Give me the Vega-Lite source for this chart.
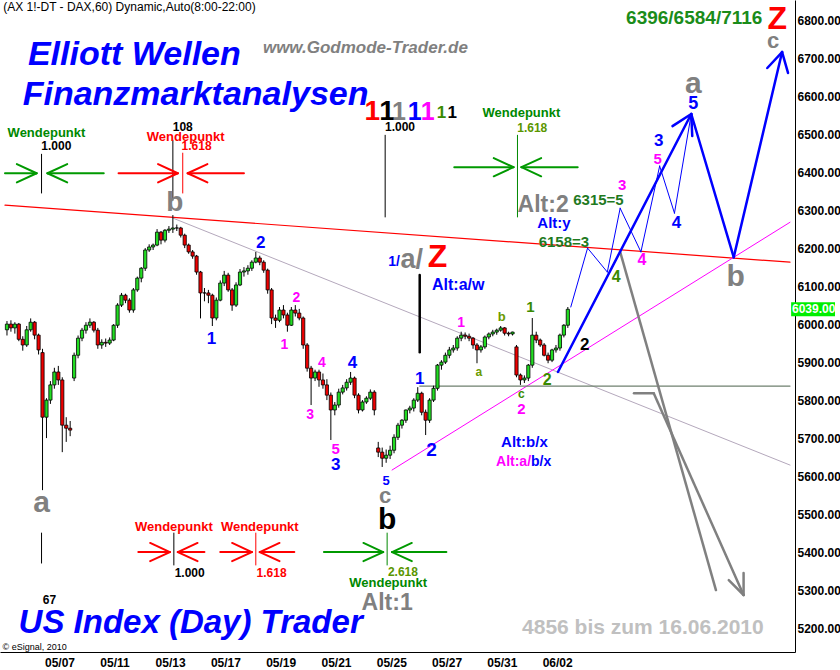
{
"$schema": "https://vega.github.io/schema/vega-lite/v6.json",
"width": 795, "height": 652,
"autosize": {"type": "none"},
"padding": {"left": 0, "top": 0, "right": 45, "bottom": 18},
"background": "#ffffff",
"config": {
 "view": {"stroke": null},
 "axis": {"ticks": false, "grid": false, "labelFont": "Liberation Sans", "labelFontWeight": "bold", "labelFontSize": 12, "labelColor": "#000000", "domainColor": "#000000", "domainWidth": 1},
 "axisX": {"labelAlign": "left", "labelPadding": 5, "labelFlush": false, "labelOverlap": false},
 "axisY": {"labelPadding": 2, "labelOverlap": false}
},
"datasets": {
 "k": [
  {"h":-19,"o":5985,"hi":6008,"lo":5970,"c":6000},{"h":-17,"o":6000,"hi":6010,"lo":5980,"c":5990},{"h":-15,"o":5990,"hi":6005,"lo":5975,"c":6000},{"h":-13,"o":6000,"hi":6003,"lo":5955,"c":5960},{"h":-11,"o":5960,"hi":5968,"lo":5930,"c":5945},{"h":-9,"o":5945,"hi":5995,"lo":5940,"c":5985},{"h":-7,"o":5985,"hi":6015,"lo":5980,"c":6005},{"h":-5,"o":6005,"hi":6008,"lo":5960,"c":5971},{"h":-3,"o":5971,"hi":5975,"lo":5920,"c":5932},{"h":-1,"o":5925,"hi":5935,"lo":5563,"c":5755},
  {"h":1,"o":5755,"hi":5805,"lo":5700,"c":5800},{"h":3,"o":5800,"hi":5850,"lo":5790,"c":5840},{"h":5,"o":5840,"hi":5885,"lo":5830,"c":5874},{"h":7,"o":5874,"hi":5890,"lo":5840,"c":5853},{"h":9,"o":5853,"hi":5860,"lo":5663,"c":5734},{"h":11,"o":5734,"hi":5755,"lo":5690,"c":5726},{"h":13,"o":5726,"hi":5745,"lo":5705,"c":5721},
  {"h":15,"o":5858,"hi":5925,"lo":5850,"c":5918},{"h":17,"o":5918,"hi":5970,"lo":5910,"c":5963},{"h":19,"o":5963,"hi":5990,"lo":5955,"c":5984},{"h":21,"o":5984,"hi":6005,"lo":5975,"c":5997},{"h":23,"o":5997,"hi":6015,"lo":5990,"c":6005},{"h":25,"o":6005,"hi":6008,"lo":5978,"c":5984},{"h":27,"o":5984,"hi":5990,"lo":5935,"c":5945},
  {"h":29,"o":5945,"hi":5960,"lo":5935,"c":5952},{"h":31,"o":5952,"hi":5962,"lo":5940,"c":5950},{"h":33,"o":5950,"hi":5965,"lo":5945,"c":5958},{"h":35,"o":5958,"hi":6000,"lo":5955,"c":5997},{"h":37,"o":5997,"hi":6055,"lo":5990,"c":6050},{"h":39,"o":6050,"hi":6082,"lo":6045,"c":6076},{"h":41,"o":6076,"hi":6080,"lo":6055,"c":6063},
  {"h":43,"o":6063,"hi":6068,"lo":6030,"c":6037},{"h":45,"o":6037,"hi":6095,"lo":6030,"c":6090},{"h":47,"o":6090,"hi":6125,"lo":6085,"c":6121},{"h":49,"o":6121,"hi":6150,"lo":6110,"c":6147},{"h":51,"o":6147,"hi":6200,"lo":6140,"c":6195},{"h":53,"o":6195,"hi":6210,"lo":6190,"c":6203},{"h":55,"o":6203,"hi":6212,"lo":6195,"c":6208},
  {"h":57,"o":6208,"hi":6250,"lo":6205,"c":6242},{"h":59,"o":6242,"hi":6245,"lo":6210,"c":6221},{"h":61,"o":6221,"hi":6250,"lo":6215,"c":6247},{"h":63,"o":6247,"hi":6258,"lo":6240,"c":6250},{"h":65,"o":6250,"hi":6287,"lo":6240,"c":6253},{"h":67,"o":6253,"hi":6262,"lo":6245,"c":6253},{"h":69,"o":6253,"hi":6256,"lo":6228,"c":6234},
  {"h":71,"o":6234,"hi":6238,"lo":6200,"c":6208},{"h":73,"o":6208,"hi":6212,"lo":6185,"c":6190},{"h":75,"o":6190,"hi":6195,"lo":6172,"c":6179},{"h":77,"o":6179,"hi":6182,"lo":6130,"c":6137},{"h":79,"o":6137,"hi":6140,"lo":6015,"c":6082},{"h":81,"o":6082,"hi":6095,"lo":6060,"c":6082},{"h":83,"o":6082,"hi":6090,"lo":6055,"c":6076},
  {"h":85,"o":6076,"hi":6080,"lo":5995,"c":6016},{"h":87,"o":6016,"hi":6070,"lo":6010,"c":6063},{"h":89,"o":6063,"hi":6115,"lo":6060,"c":6108},{"h":91,"o":6108,"hi":6140,"lo":6100,"c":6129},{"h":93,"o":6129,"hi":6135,"lo":6085,"c":6090},{"h":95,"o":6090,"hi":6095,"lo":6035,"c":6050},{"h":97,"o":6050,"hi":6110,"lo":6045,"c":6103},
  {"h":99,"o":6103,"hi":6145,"lo":6100,"c":6137},{"h":101,"o":6137,"hi":6150,"lo":6125,"c":6140},{"h":103,"o":6140,"hi":6155,"lo":6130,"c":6147},{"h":105,"o":6147,"hi":6168,"lo":6140,"c":6163},{"h":107,"o":6163,"hi":6190,"lo":6160,"c":6174},{"h":109,"o":6174,"hi":6180,"lo":6155,"c":6163},{"h":111,"o":6163,"hi":6168,"lo":6135,"c":6142},
  {"h":113,"o":6142,"hi":6146,"lo":6080,"c":6090},{"h":115,"o":6090,"hi":6095,"lo":6000,"c":6016},{"h":117,"o":6016,"hi":6025,"lo":5990,"c":6010},{"h":119,"o":6010,"hi":6045,"lo":6005,"c":6037},{"h":121,"o":6037,"hi":6050,"lo":6015,"c":6024},{"h":123,"o":6024,"hi":6030,"lo":5980,"c":5997},{"h":125,"o":5997,"hi":6045,"lo":5995,"c":6037},
  {"h":127,"o":6037,"hi":6050,"lo":6020,"c":6029},{"h":129,"o":6029,"hi":6040,"lo":6010,"c":6016},{"h":131,"o":6016,"hi":6020,"lo":5935,"c":5945},{"h":133,"o":5945,"hi":5950,"lo":5875,"c":5884},{"h":135,"o":5884,"hi":5890,"lo":5787,"c":5858},{"h":137,"o":5858,"hi":5880,"lo":5850,"c":5874},{"h":139,"o":5874,"hi":5880,"lo":5835,"c":5853},
  {"h":141,"o":5853,"hi":5870,"lo":5830,"c":5840},{"h":143,"o":5840,"hi":5855,"lo":5800,"c":5813},{"h":145,"o":5813,"hi":5820,"lo":5695,"c":5774},{"h":147,"o":5774,"hi":5795,"lo":5760,"c":5787},{"h":149,"o":5787,"hi":5830,"lo":5780,"c":5821},{"h":151,"o":5821,"hi":5840,"lo":5815,"c":5832},{"h":153,"o":5832,"hi":5855,"lo":5825,"c":5847},
  {"h":155,"o":5847,"hi":5874,"lo":5840,"c":5858},{"h":157,"o":5858,"hi":5862,"lo":5805,"c":5813},{"h":159,"o":5813,"hi":5818,"lo":5765,"c":5774},{"h":161,"o":5774,"hi":5800,"lo":5770,"c":5795},{"h":163,"o":5795,"hi":5810,"lo":5790,"c":5805},{"h":165,"o":5805,"hi":5828,"lo":5800,"c":5821},{"h":167,"o":5821,"hi":5826,"lo":5760,"c":5774},
  {"h":169,"o":5674,"hi":5690,"lo":5650,"c":5663},{"h":171,"o":5663,"hi":5675,"lo":5624,"c":5647},{"h":173,"o":5647,"hi":5670,"lo":5635,"c":5655},{"h":175,"o":5655,"hi":5680,"lo":5645,"c":5668},{"h":177,"o":5668,"hi":5710,"lo":5660,"c":5702},{"h":179,"o":5702,"hi":5740,"lo":5695,"c":5734},{"h":181,"o":5734,"hi":5750,"lo":5725,"c":5747},
  {"h":183,"o":5747,"hi":5775,"lo":5740,"c":5774},{"h":185,"o":5774,"hi":5785,"lo":5765,"c":5779},{"h":187,"o":5779,"hi":5805,"lo":5770,"c":5800},{"h":189,"o":5800,"hi":5834,"lo":5795,"c":5818},{"h":191,"o":5818,"hi":5822,"lo":5760,"c":5768},{"h":193,"o":5768,"hi":5775,"lo":5708,"c":5747},{"h":195,"o":5747,"hi":5805,"lo":5740,"c":5800},
  {"h":197,"o":5800,"hi":5838,"lo":5795,"c":5831},{"h":199,"o":5831,"hi":5895,"lo":5825,"c":5892},{"h":201,"o":5892,"hi":5905,"lo":5880,"c":5900},{"h":203,"o":5900,"hi":5925,"lo":5895,"c":5918},{"h":205,"o":5918,"hi":5940,"lo":5910,"c":5932},{"h":207,"o":5932,"hi":5945,"lo":5925,"c":5937},{"h":209,"o":5937,"hi":5968,"lo":5930,"c":5963},
  {"h":211,"o":5963,"hi":5980,"lo":5955,"c":5971},{"h":213,"o":5971,"hi":5978,"lo":5960,"c":5968},{"h":215,"o":5968,"hi":5975,"lo":5955,"c":5963},{"h":217,"o":5963,"hi":5966,"lo":5935,"c":5945},{"h":219,"o":5945,"hi":5950,"lo":5897,"c":5932},{"h":221,"o":5932,"hi":5945,"lo":5925,"c":5940},{"h":223,"o":5940,"hi":5970,"lo":5935,"c":5966},
  {"h":225,"o":5966,"hi":5978,"lo":5960,"c":5974},{"h":227,"o":5974,"hi":5985,"lo":5968,"c":5979},{"h":229,"o":5979,"hi":5988,"lo":5972,"c":5984},{"h":231,"o":5984,"hi":5995,"lo":5980,"c":5990},{"h":233,"o":5990,"hi":5992,"lo":5970,"c":5976},{"h":235,"o":5976,"hi":5980,"lo":5968,"c":5974},{"h":237,"o":5974,"hi":5980,"lo":5970,"c":5979},
  {"h":239,"o":5940,"hi":5945,"lo":5860,"c":5866},{"h":241,"o":5866,"hi":5870,"lo":5840,"c":5853},{"h":243,"o":5853,"hi":5865,"lo":5845,"c":5858},{"h":245,"o":5858,"hi":5895,"lo":5850,"c":5892},{"h":247,"o":5892,"hi":6016,"lo":5885,"c":5971},{"h":249,"o":5971,"hi":5980,"lo":5950,"c":5958},{"h":251,"o":5958,"hi":5962,"lo":5940,"c":5945},
  {"h":253,"o":5945,"hi":5950,"lo":5915,"c":5918},{"h":255,"o":5918,"hi":5925,"lo":5897,"c":5905},{"h":257,"o":5905,"hi":5935,"lo":5900,"c":5932},{"h":259,"o":5932,"hi":5945,"lo":5925,"c":5937},{"h":261,"o":5937,"hi":5975,"lo":5930,"c":5971},{"h":263,"o":5971,"hi":6000,"lo":5965,"c":5997},{"h":265,"o":5997,"hi":6045,"lo":5990,"c":6039}
 ],
 "seg": [
  {"g":"t","x":-20,"y":6313,"x2":377.5,"y2":6163,"c":"#ff0000","w":1.2},
  {"g":"t","x":65,"y":6279,"x2":377.5,"y2":5629,"c":"#b4a8bc","w":1},
  {"g":"t","x":176,"y":5616,"x2":377.5,"y2":6268,"c":"#ff00ff","w":1},
  {"g":"t","x":190,"y":5837,"x2":377.5,"y2":5837,"c":"#6f806f","w":1.2},
  {"g":"f","x":-1.5,"y":6447,"x2":-1.5,"y2":6345,"c":"#000000","w":1},
  {"g":"f","x":65,"y":6484,"x2":65,"y2":6326,"c":"#000000","w":1},
  {"g":"f","x":70,"y":6450,"x2":70,"y2":6345,"c":"#ff0000","w":1},
  {"g":"f","x":172.5,"y":6497,"x2":172.5,"y2":6282,"c":"#000000","w":1},
  {"g":"f","x":239.5,"y":6497,"x2":239.5,"y2":6282,"c":"#008800","w":1},
  {"g":"f","x":-1.5,"y":5450,"x2":-1.5,"y2":5371,"c":"#000000","w":1},
  {"g":"f","x":65.5,"y":5450,"x2":65.5,"y2":5366,"c":"#000000","w":1},
  {"g":"f","x":107,"y":5450,"x2":107,"y2":5366,"c":"#ff0000","w":1},
  {"g":"f","x":173.5,"y":5450,"x2":173.5,"y2":5366,"c":"#008800","w":1},
  {"g":"f","x":190,"y":6129,"x2":190,"y2":5926,"c":"#000000","w":2.5},
  {"g":"f","x":-20,"y":6397,"x2":-4,"y2":6397,"c":"#009900","w":2},
  {"g":"f","x":-14,"y":6421,"x2":-4,"y2":6397,"c":"#009900","w":2},
  {"g":"f","x":-14,"y":6373,"x2":-4,"y2":6397,"c":"#009900","w":2},
  {"g":"f","x":1.5,"y":6397,"x2":30,"y2":6397,"c":"#009900","w":2},
  {"g":"f","x":11.5,"y":6421,"x2":1.5,"y2":6397,"c":"#009900","w":2},
  {"g":"f","x":11.5,"y":6373,"x2":1.5,"y2":6397,"c":"#009900","w":2},
  {"g":"f","x":37.5,"y":6397,"x2":67.5,"y2":6397,"c":"#ff0000","w":2},
  {"g":"f","x":57.5,"y":6421,"x2":67.5,"y2":6397,"c":"#ff0000","w":2},
  {"g":"f","x":57.5,"y":6373,"x2":67.5,"y2":6397,"c":"#ff0000","w":2},
  {"g":"f","x":72.5,"y":6397,"x2":101,"y2":6397,"c":"#ff0000","w":2},
  {"g":"f","x":82.5,"y":6421,"x2":72.5,"y2":6397,"c":"#ff0000","w":2},
  {"g":"f","x":82.5,"y":6373,"x2":72.5,"y2":6397,"c":"#ff0000","w":2},
  {"g":"f","x":207.5,"y":6413,"x2":237.5,"y2":6413,"c":"#009900","w":2},
  {"g":"f","x":227.5,"y":6437,"x2":237.5,"y2":6413,"c":"#009900","w":2},
  {"g":"f","x":227.5,"y":6389,"x2":237.5,"y2":6413,"c":"#009900","w":2},
  {"g":"f","x":241.5,"y":6413,"x2":270,"y2":6413,"c":"#009900","w":2},
  {"g":"f","x":251.5,"y":6437,"x2":241.5,"y2":6413,"c":"#009900","w":2},
  {"g":"f","x":251.5,"y":6389,"x2":241.5,"y2":6413,"c":"#009900","w":2},
  {"g":"f","x":47.5,"y":5400,"x2":63.5,"y2":5400,"c":"#ff0000","w":2},
  {"g":"f","x":53.5,"y":5424,"x2":63.5,"y2":5400,"c":"#ff0000","w":2},
  {"g":"f","x":53.5,"y":5376,"x2":63.5,"y2":5400,"c":"#ff0000","w":2},
  {"g":"f","x":67.5,"y":5400,"x2":81,"y2":5400,"c":"#ff0000","w":2},
  {"g":"f","x":77.5,"y":5424,"x2":67.5,"y2":5400,"c":"#ff0000","w":2},
  {"g":"f","x":77.5,"y":5376,"x2":67.5,"y2":5400,"c":"#ff0000","w":2},
  {"g":"f","x":89,"y":5400,"x2":105,"y2":5400,"c":"#ff0000","w":2},
  {"g":"f","x":95,"y":5424,"x2":105,"y2":5400,"c":"#ff0000","w":2},
  {"g":"f","x":95,"y":5376,"x2":105,"y2":5400,"c":"#ff0000","w":2},
  {"g":"f","x":109,"y":5400,"x2":126.5,"y2":5400,"c":"#ff0000","w":2},
  {"g":"f","x":119,"y":5424,"x2":109,"y2":5400,"c":"#ff0000","w":2},
  {"g":"f","x":119,"y":5376,"x2":109,"y2":5400,"c":"#ff0000","w":2},
  {"g":"f","x":141.5,"y":5400,"x2":171.5,"y2":5400,"c":"#009900","w":2},
  {"g":"f","x":161.5,"y":5424,"x2":171.5,"y2":5400,"c":"#009900","w":2},
  {"g":"f","x":161.5,"y":5376,"x2":171.5,"y2":5400,"c":"#009900","w":2},
  {"g":"f","x":176,"y":5400,"x2":203.5,"y2":5400,"c":"#009900","w":2},
  {"g":"f","x":186,"y":5424,"x2":176,"y2":5400,"c":"#009900","w":2},
  {"g":"f","x":186,"y":5376,"x2":176,"y2":5400,"c":"#009900","w":2},
  {"g":"f","x":266.5,"y":6045,"x2":275,"y2":6200,"c":"#0000ff","w":1},
  {"g":"f","x":275,"y":6200,"x2":285,"y2":6137,"c":"#0000ff","w":1},
  {"g":"f","x":285,"y":6137,"x2":291.5,"y2":6305,"c":"#0000ff","w":1},
  {"g":"f","x":291.5,"y":6305,"x2":302,"y2":6190,"c":"#0000ff","w":1},
  {"g":"f","x":302,"y":6190,"x2":311.5,"y2":6416,"c":"#0000ff","w":1},
  {"g":"f","x":311.5,"y":6416,"x2":319,"y2":6292,"c":"#0000ff","w":1},
  {"g":"f","x":319,"y":6292,"x2":327.5,"y2":6553,"c":"#0000ff","w":1},
  {"g":"f","x":291.5,"y":6190,"x2":340,"y2":5300,"c":"#808080","w":2.5},
  {"g":"f","x":298.5,"y":5818,"x2":308.5,"y2":5818,"c":"#808080","w":2.5},
  {"g":"f","x":308.5,"y":5818,"x2":354,"y2":5287,"c":"#808080","w":2.5},
  {"g":"f","x":346.5,"y":5326,"x2":354,"y2":5287,"c":"#808080","w":2.5},
  {"g":"f","x":354,"y":5345,"x2":354,"y2":5287,"c":"#808080","w":2.5},
  {"g":"f","x":260,"y":5874,"x2":327.5,"y2":6553,"c":"#0000ff","w":2.5},
  {"g":"f","x":327.5,"y":6553,"x2":349,"y2":6176,"c":"#0000ff","w":2.5},
  {"g":"f","x":349,"y":6176,"x2":373.5,"y2":6716,"c":"#0000ff","w":2.5},
  {"g":"f","x":318,"y":6521,"x2":327.5,"y2":6553,"c":"#0000ff","w":2.5},
  {"g":"f","x":328,"y":6495,"x2":327.5,"y2":6553,"c":"#0000ff","w":2.5},
  {"g":"f","x":366,"y":6674,"x2":373.5,"y2":6716,"c":"#0000ff","w":2.5},
  {"g":"f","x":376.5,"y":6661,"x2":373.5,"y2":6716,"c":"#0000ff","w":2.5}
 ],
 "txt": [
  {"k":"bi","x":45.5,"y":6708,"t":"Elliott Wellen","c":"#0000ff","s":34},
  {"k":"bi","x":76.5,"y":6603,"t":"Finanzmarktanalysen","c":"#0000ff","s":34},
  {"k":"bi","x":162.5,"y":6726,"t":"www.Godmode-Trader.de","c":"#808080","s":17},
  {"k":"bi","x":74,"y":5213,"t":"US Index (Day) Trader","c":"#0000ff","s":33},
  {"k":"n","x":43,"y":6834,"t":"(AX 1!-DT - DAX,60) Dynamic,Auto(8:00-22:00)","c":"#000000","s":12},
  {"k":"n","x":-5,"y":5150,"t":"© eSignal, 2010","c":"#000000","s":9},
  {"k":"b","x":303,"y":5200,"t":"4856 bis zum 16.06.2010","c":"#c0c0c0","s":21},
  {"k":"b","x":329,"y":6805,"t":"6396/6584/7116","c":"#1a8c1a","s":19},
  {"k":"b","x":371,"y":6804,"t":"Z","c":"#ff0000","s":32},
  {"k":"b","x":369,"y":6745,"t":"c","c":"#808080","s":22},
  {"k":"b","x":328.5,"y":6633,"t":"a","c":"#808080","s":30},
  {"k":"b","x":328.5,"y":6580,"t":"5","c":"#0000ff","s":18},
  {"k":"b","x":311,"y":6481,"t":"3","c":"#0000ff","s":17},
  {"k":"b","x":310.5,"y":6435,"t":"5","c":"#ff00ff","s":15},
  {"k":"b","x":320,"y":6266,"t":"4","c":"#0000ff","s":17},
  {"k":"b","x":350,"y":6124,"t":"b","c":"#808080","s":30},
  {"k":"b","x":292.5,"y":6366,"t":"3","c":"#ff00ff","s":15},
  {"k":"b","x":280.5,"y":6326,"t":"6315=5","c":"#1f7a1f","s":15},
  {"k":"b","x":252.5,"y":6313,"t":"Alt:2","c":"#808080","s":23},
  {"k":"b","x":258,"y":6266,"t":"Alt:y","c":"#0000ff","s":15},
  {"k":"b","x":263,"y":6216,"t":"6158=3","c":"#1f7a1f","s":15},
  {"k":"b","x":289.5,"y":6124,"t":"4","c":"#3a8a00","s":16},
  {"k":"b","x":302.5,"y":6168,"t":"4","c":"#ff00ff","s":16},
  {"k":"b","x":166,"y":6558,"t":"1","c":"#ff0000","s":28},
  {"k":"b","x":173.5,"y":6558,"t":"1","c":"#000000","s":28},
  {"k":"b","x":179.5,"y":6558,"t":"1","c":"#808080","s":25},
  {"k":"b","x":187.5,"y":6558,"t":"1","c":"#0000ff","s":25},
  {"k":"b","x":194,"y":6558,"t":"1","c":"#ff00ff","s":25},
  {"k":"b","x":201,"y":6555,"t":"1","c":"#3a8a00","s":17},
  {"k":"b","x":206.5,"y":6555,"t":"1","c":"#000000","s":17},
  {"k":"b","x":180,"y":6518,"t":"1.000","c":"#000000","s":12},
  {"k":"b","x":241.5,"y":6555,"t":"Wendepunkt","c":"#008800","s":13},
  {"k":"b","x":247,"y":6516,"t":"1.618","c":"#5a9600","s":12},
  {"k":"b","x":1,"y":6503,"t":"Wendepunkt","c":"#008800","s":13},
  {"k":"b","x":6,"y":6468,"t":"1.000","c":"#000000","s":12},
  {"k":"b","x":70,"y":6520,"t":"108","c":"#000000","s":12},
  {"k":"b","x":71.5,"y":6492,"t":"Wendepunkt","c":"#ff0000","s":13},
  {"k":"b","x":77,"y":6468,"t":"1.618","c":"#ff0000","s":12},
  {"k":"b","x":66,"y":6318,"t":"b","c":"#808080","s":28},
  {"k":"b","x":84.5,"y":5960,"t":"1","c":"#0000ff","s":17},
  {"k":"b","x":109.5,"y":6213,"t":"2","c":"#0000ff","s":17},
  {"k":"b","x":156,"y":5897,"t":"4","c":"#0000ff","s":17},
  {"k":"b","x":147.5,"y":5630,"t":"3","c":"#0000ff","s":17},
  {"k":"b","x":173,"y":5586,"t":"5","c":"#0000ff","s":13},
  {"k":"b","x":190,"y":5855,"t":"1","c":"#0000ff","s":17},
  {"k":"b","x":196,"y":5668,"t":"2","c":"#0000ff","s":19},
  {"k":"b","x":121.5,"y":5945,"t":"1","c":"#ff00ff","s":14},
  {"k":"b","x":127.5,"y":6068,"t":"2","c":"#ff00ff","s":14},
  {"k":"b","x":134.5,"y":5760,"t":"3","c":"#ff00ff","s":14},
  {"k":"b","x":140.5,"y":5897,"t":"4","c":"#ff00ff","s":14},
  {"k":"b","x":147.5,"y":5670,"t":"5","c":"#ff00ff","s":15},
  {"k":"b","x":211,"y":6003,"t":"1","c":"#ff00ff","s":14},
  {"k":"b","x":241.5,"y":5777,"t":"2","c":"#ff00ff","s":15},
  {"k":"b","x":220,"y":5874,"t":"a","c":"#6b9a00","s":12},
  {"k":"b","x":231.5,"y":6018,"t":"b","c":"#6b9a00","s":13},
  {"k":"b","x":246,"y":6045,"t":"1","c":"#3a8a00","s":15},
  {"k":"b","x":241.5,"y":5815,"t":"c","c":"#3a8a00","s":12},
  {"k":"b","x":254.5,"y":5853,"t":"2","c":"#3a8a00","s":16},
  {"k":"b","x":273.5,"y":5945,"t":"2","c":"#000000","s":17},
  {"k":"b","x":177,"y":6163,"t":"1/","c":"#0000ff","s":14},
  {"k":"b","x":186,"y":6168,"t":"a/","c":"#808080","s":27},
  {"k":"b","x":199,"y":6176,"t":"Z","c":"#ff0000","s":32},
  {"k":"b","x":209.5,"y":6103,"t":"Alt:a/w","c":"#0000ff","s":16},
  {"k":"b","x":243,"y":5690,"t":"Alt:b/x","c":"#0000ff","s":15},
  {"k":"b","x":237.5,"y":5637,"t":"Alt:a/","c":"#ff00ff","s":14},
  {"k":"b","x":251.5,"y":5637,"t":"b/x","c":"#0000ff","s":14},
  {"k":"b","x":172.5,"y":5548,"t":"c","c":"#808080","s":22},
  {"k":"b","x":173.5,"y":5484,"t":"b","c":"#000000","s":30},
  {"k":"b","x":-1.5,"y":5529,"t":"a","c":"#808080","s":30},
  {"k":"b","x":2.5,"y":5274,"t":"67","c":"#000000","s":12},
  {"k":"b","x":65.5,"y":5466,"t":"Wendepunkt","c":"#ff0000","s":13},
  {"k":"b","x":73.5,"y":5345,"t":"1.000","c":"#000000","s":12},
  {"k":"b","x":109,"y":5466,"t":"Wendepunkt","c":"#ff0000","s":13},
  {"k":"b","x":115,"y":5345,"t":"1.618","c":"#ff0000","s":12},
  {"k":"b","x":181.5,"y":5347,"t":"2.618","c":"#5a9600","s":12},
  {"k":"b","x":174,"y":5319,"t":"Wendepunkt","c":"#008800","s":13},
  {"k":"b","x":173.5,"y":5267,"t":"Alt:1","c":"#808080","s":23}
 ],
 "tag": [{"x":377.5,"y":6039,"t":"6039.00"}]
},
"layer": [
 {
  "data": {"name": "seg"},
  "transform": [{"filter": "datum.g == 't'"}],
  "mark": {"type": "rule", "strokeCap": "round"},
  "encoding": {
   "x": {"field": "x", "type": "quantitative", "scale": {"domain": [-20, 377.5], "nice": false, "zero": false},
         "axis": {"title": null, "values": [0, 28, 56, 84, 112, 140, 168, 196, 224, 252], "labelExpr": "['05/07','05/11','05/13','05/17','05/19','05/21','05/25','05/27','05/31','06/02'][round(datum.value/28)]"}},
   "y": {"field": "y", "type": "quantitative", "scale": {"domain": [5137, 6853], "nice": false, "zero": false},
         "axis": {"title": null, "orient": "right", "values": [5200, 5300, 5400, 5500, 5600, 5700, 5800, 5900, 6000, 6100, 6200, 6300, 6400, 6500, 6600, 6700, 6800], "format": ".2f"}},
   "x2": {"field": "x2"},
   "y2": {"field": "y2"},
   "color": {"field": "c", "type": "nominal", "scale": null},
   "strokeWidth": {"field": "w", "type": "quantitative", "scale": null}
  }
 },
 {
  "data": {"name": "k"},
  "mark": {"type": "rule", "color": "#000000", "strokeWidth": 1},
  "encoding": {
   "x": {"field": "h", "type": "quantitative", "scale": {"domain": [-20, 377.5], "nice": false, "zero": false},
         "axis": {"title": null, "values": [0, 28, 56, 84, 112, 140, 168, 196, 224, 252], "labelExpr": "['05/07','05/11','05/13','05/17','05/19','05/21','05/25','05/27','05/31','06/02'][round(datum.value/28)]"}},
   "y": {"field": "lo", "type": "quantitative", "scale": {"domain": [5137, 6853], "nice": false, "zero": false},
         "axis": {"title": null, "orient": "right", "values": [5200, 5300, 5400, 5500, 5600, 5700, 5800, 5900, 6000, 6100, 6200, 6300, 6400, 6500, 6600, 6700, 6800], "format": ".2f"}},
   "y2": {"field": "hi"}
  }
 },
 {
  "data": {"name": "k"},
  "mark": {"type": "bar", "size": 3.2, "stroke": "#000000", "strokeWidth": 0.8},
  "encoding": {
   "x": {"field": "h", "type": "quantitative", "scale": {"domain": [-20, 377.5], "nice": false, "zero": false},
         "axis": {"title": null, "values": [0, 28, 56, 84, 112, 140, 168, 196, 224, 252], "labelExpr": "['05/07','05/11','05/13','05/17','05/19','05/21','05/25','05/27','05/31','06/02'][round(datum.value/28)]"}},
   "y": {"field": "o", "type": "quantitative", "scale": {"domain": [5137, 6853], "nice": false, "zero": false},
         "axis": {"title": null, "orient": "right", "values": [5200, 5300, 5400, 5500, 5600, 5700, 5800, 5900, 6000, 6100, 6200, 6300, 6400, 6500, 6600, 6700, 6800], "format": ".2f"}},
   "y2": {"field": "c"},
   "fill": {"condition": {"test": "datum.c >= datum.o", "value": "#22dd22"}, "value": "#ee0000"}
  }
 },
 {
  "data": {"name": "seg"},
  "transform": [{"filter": "datum.g == 'f'"}],
  "mark": {"type": "rule", "strokeCap": "round"},
  "encoding": {
   "x": {"field": "x", "type": "quantitative", "scale": {"domain": [-20, 377.5], "nice": false, "zero": false},
         "axis": {"title": null, "values": [0, 28, 56, 84, 112, 140, 168, 196, 224, 252], "labelExpr": "['05/07','05/11','05/13','05/17','05/19','05/21','05/25','05/27','05/31','06/02'][round(datum.value/28)]"}},
   "y": {"field": "y", "type": "quantitative", "scale": {"domain": [5137, 6853], "nice": false, "zero": false},
         "axis": {"title": null, "orient": "right", "values": [5200, 5300, 5400, 5500, 5600, 5700, 5800, 5900, 6000, 6100, 6200, 6300, 6400, 6500, 6600, 6700, 6800], "format": ".2f"}},
   "x2": {"field": "x2"},
   "y2": {"field": "y2"},
   "color": {"field": "c", "type": "nominal", "scale": null},
   "strokeWidth": {"field": "w", "type": "quantitative", "scale": null}
  }
 },
 {
  "data": {"name": "tag"},
  "mark": {"type": "point", "filled": true, "opacity": 1, "color": "#00ee00", "shape": "M0.05,-0.31H2V0.31H0.05Z", "size": 2025},
  "encoding": {
   "x": {"field": "x", "type": "quantitative", "scale": {"domain": [-20, 377.5], "nice": false, "zero": false},
         "axis": {"title": null, "values": [0, 28, 56, 84, 112, 140, 168, 196, 224, 252], "labelExpr": "['05/07','05/11','05/13','05/17','05/19','05/21','05/25','05/27','05/31','06/02'][round(datum.value/28)]"}},
   "y": {"field": "y", "type": "quantitative", "scale": {"domain": [5137, 6853], "nice": false, "zero": false},
         "axis": {"title": null, "orient": "right", "values": [5200, 5300, 5400, 5500, 5600, 5700, 5800, 5900, 6000, 6100, 6200, 6300, 6400, 6500, 6600, 6700, 6800], "format": ".2f"}}
  }
 },
 {
  "data": {"name": "tag"},
  "mark": {"type": "text", "align": "left", "baseline": "middle", "dx": 2, "font": "Liberation Sans", "fontWeight": "bold", "fontSize": 12, "color": "#ffffff"},
  "encoding": {
   "x": {"field": "x", "type": "quantitative", "scale": {"domain": [-20, 377.5], "nice": false, "zero": false},
         "axis": {"title": null, "values": [0, 28, 56, 84, 112, 140, 168, 196, 224, 252], "labelExpr": "['05/07','05/11','05/13','05/17','05/19','05/21','05/25','05/27','05/31','06/02'][round(datum.value/28)]"}},
   "y": {"field": "y", "type": "quantitative", "scale": {"domain": [5137, 6853], "nice": false, "zero": false},
         "axis": {"title": null, "orient": "right", "values": [5200, 5300, 5400, 5500, 5600, 5700, 5800, 5900, 6000, 6100, 6200, 6300, 6400, 6500, 6600, 6700, 6800], "format": ".2f"}},
   "text": {"field": "t"}
  }
 },
 {
  "data": {"name": "txt"},
  "transform": [{"filter": "datum.k == 'bi'"}],
  "mark": {"type": "text", "align": "center", "baseline": "middle", "font": "Liberation Sans", "fontWeight": "bold", "fontStyle": "italic"},
  "encoding": {
   "x": {"field": "x", "type": "quantitative", "scale": {"domain": [-20, 377.5], "nice": false, "zero": false},
         "axis": {"title": null, "values": [0, 28, 56, 84, 112, 140, 168, 196, 224, 252], "labelExpr": "['05/07','05/11','05/13','05/17','05/19','05/21','05/25','05/27','05/31','06/02'][round(datum.value/28)]"}},
   "y": {"field": "y", "type": "quantitative", "scale": {"domain": [5137, 6853], "nice": false, "zero": false},
         "axis": {"title": null, "orient": "right", "values": [5200, 5300, 5400, 5500, 5600, 5700, 5800, 5900, 6000, 6100, 6200, 6300, 6400, 6500, 6600, 6700, 6800], "format": ".2f"}},
   "text": {"field": "t"},
   "color": {"field": "c", "type": "nominal", "scale": null},
   "size": {"field": "s", "type": "quantitative", "scale": null}
  }
 },
 {
  "data": {"name": "txt"},
  "transform": [{"filter": "datum.k == 'b'"}],
  "mark": {"type": "text", "align": "center", "baseline": "middle", "font": "Liberation Sans", "fontWeight": "bold"},
  "encoding": {
   "x": {"field": "x", "type": "quantitative", "scale": {"domain": [-20, 377.5], "nice": false, "zero": false},
         "axis": {"title": null, "values": [0, 28, 56, 84, 112, 140, 168, 196, 224, 252], "labelExpr": "['05/07','05/11','05/13','05/17','05/19','05/21','05/25','05/27','05/31','06/02'][round(datum.value/28)]"}},
   "y": {"field": "y", "type": "quantitative", "scale": {"domain": [5137, 6853], "nice": false, "zero": false},
         "axis": {"title": null, "orient": "right", "values": [5200, 5300, 5400, 5500, 5600, 5700, 5800, 5900, 6000, 6100, 6200, 6300, 6400, 6500, 6600, 6700, 6800], "format": ".2f"}},
   "text": {"field": "t"},
   "color": {"field": "c", "type": "nominal", "scale": null},
   "size": {"field": "s", "type": "quantitative", "scale": null}
  }
 },
 {
  "data": {"name": "txt"},
  "transform": [{"filter": "datum.k == 'n'"}],
  "mark": {"type": "text", "align": "center", "baseline": "middle", "font": "Liberation Sans"},
  "encoding": {
   "x": {"field": "x", "type": "quantitative", "scale": {"domain": [-20, 377.5], "nice": false, "zero": false},
         "axis": {"title": null, "values": [0, 28, 56, 84, 112, 140, 168, 196, 224, 252], "labelExpr": "['05/07','05/11','05/13','05/17','05/19','05/21','05/25','05/27','05/31','06/02'][round(datum.value/28)]"}},
   "y": {"field": "y", "type": "quantitative", "scale": {"domain": [5137, 6853], "nice": false, "zero": false},
         "axis": {"title": null, "orient": "right", "values": [5200, 5300, 5400, 5500, 5600, 5700, 5800, 5900, 6000, 6100, 6200, 6300, 6400, 6500, 6600, 6700, 6800], "format": ".2f"}},
   "text": {"field": "t"},
   "color": {"field": "c", "type": "nominal", "scale": null},
   "size": {"field": "s", "type": "quantitative", "scale": null}
  }
 }
]
}
